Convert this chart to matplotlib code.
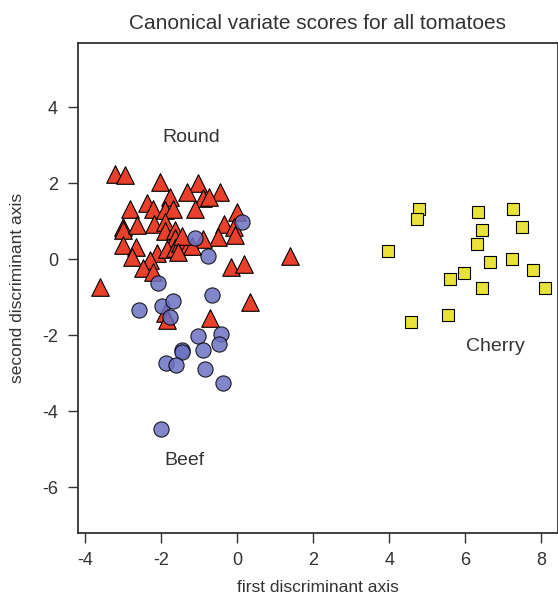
import numpy as np
import matplotlib.pyplot as plt

plt.rcParams['font.family'] = ['Liberation Sans', 'DejaVu Sans']
plt.rcParams['axes.unicode_minus'] = False

# canonical variate scores, one pair of lists per tomato type
round_x = [-3.22, -2.96, -2.03, -1.77, -2.82, -2.37, -2.22, -1.90, -1.69, -3.01,
           -3.01, -2.64, -2.19, -1.90, -1.90, -1.64, -1.64, -3.01, -2.66, -2.77,
           -2.11, -1.85, -2.30, -2.48, -2.22, -3.61, -1.64, -1.03, -1.32, -0.45,
           -0.90, -0.74, -1.11, 0.00, -0.34, -0.08, -0.05, -0.50, -0.90, -0.16,
           0.18, 0.34, 1.40, -1.50, -1.40, -1.29, -1.19, -1.45, -1.56, -0.71,
           -1.90, -1.85]
round_y = [2.24, 2.22, 2.03, 1.64, 1.32, 1.48, 1.32, 1.30, 1.32, 0.85,
           0.77, 0.90, 0.93, 0.98, 0.74, 0.77, 0.56, 0.38, 0.32, 0.06,
           0.17, 0.27, -0.02, -0.23, -0.33, -0.72, 0.30, 2.01, 1.77, 1.77,
           1.61, 1.64, 1.32, 1.24, 0.93, 0.85, 0.64, 0.59, 0.53, -0.20,
           -0.12, -1.12, 0.09, 0.43, 0.35, 0.35, 0.35, 0.61, 0.19, -1.55,
           -1.42, -1.60]

beef_x = [0.13, -1.11, -0.77, -2.08, -0.66, -2.59, -1.98, -1.69, -1.77, -1.03,
          -0.42, -0.47, -1.45, -1.45, -0.90, -1.87, -1.61, -0.84, -0.37, -2.01]
beef_y = [0.98, 0.56, 0.09, -0.62, -0.94, -1.33, -1.23, -1.10, -1.52, -2.02,
          -1.97, -2.23, -2.39, -2.44, -2.39, -2.73, -2.78, -2.88, -3.26, -4.47]

cherry_x = [4.79, 4.74, 3.96, 6.33, 7.26, 6.44, 7.49, 6.31, 6.64, 7.22,
            7.78, 5.96, 5.59, 6.44, 8.10, 5.55, 4.58]
cherry_y = [1.33, 1.06, 0.22, 1.24, 1.32, 0.77, 0.85, 0.39, -0.07, 0.00,
            -0.28, -0.36, -0.52, -0.76, -0.76, -1.47, -1.65]

group_labels = ['Round', 'Beef', 'Cherry']
label_x = [-1.2, -1.4, 6.8]
label_y = [3.2, -5.3, -2.3]

ink = '#333333'

fig = plt.figure(figsize=(5.58, 5.98), dpi=100)
ax = fig.add_axes([0.139, 0.109, 0.861, 0.819])

ax.scatter(round_x, round_y, marker='^', s=160, c='#E8402A',
           edgecolors='black', linewidths=0.8, zorder=3)
ax.scatter(beef_x, beef_y, marker='o', s=120, c='#6C72C4', alpha=0.85,
           edgecolors='black', linewidths=0.8, zorder=3)
ax.scatter(cherry_x, cherry_y, marker='s', s=85, c='#E8E23A',
           edgecolors='black', linewidths=0.8, zorder=3)

for name, tx, ty in zip(group_labels, label_x, label_y):
    ax.text(tx, ty, name, fontsize=14, color=ink, ha='center', va='center')

ax.set_xlim(-4.2, 8.44)
ax.set_ylim(-7.2, 5.69)
ax.set_xticks([-4, -2, 0, 2, 4, 6, 8])
ax.set_yticks([-6, -4, -2, 0, 2, 4])
ax.tick_params(direction='out', length=7, width=1, colors=ink,
               labelsize=13)
ax.tick_params(axis='y', pad=7)
ax.tick_params(axis='x', pad=7)
for spine in ax.spines.values():
    spine.set_color(ink)
    spine.set_linewidth(1.3)

ax.set_xlabel('first discriminant axis', fontsize=12.5, color=ink, labelpad=8)
ax.set_ylabel('second discriminant axis', fontsize=12.5, color=ink, labelpad=12)
ax.set_title('Canonical variate scores for all tomatoes', fontsize=15,
             color=ink, pad=10)

fig.savefig('out.png', dpi=100)
